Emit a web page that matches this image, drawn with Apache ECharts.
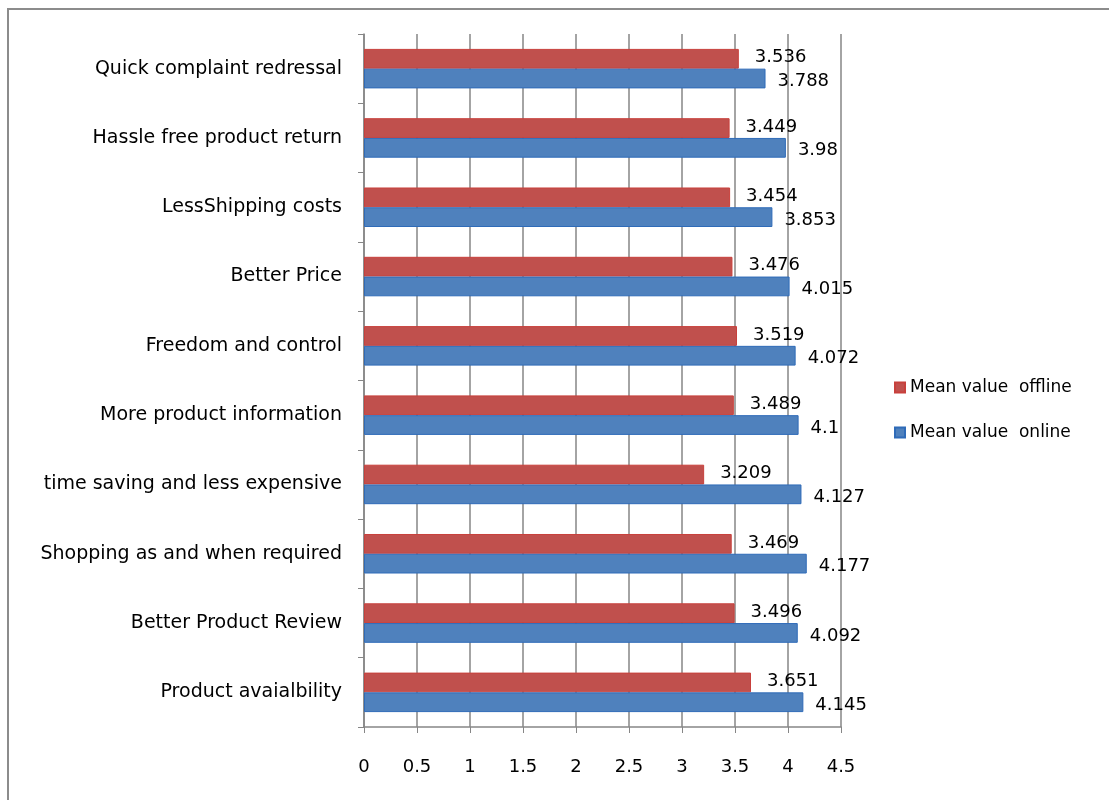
<!DOCTYPE html>
<html>
<head>
<meta charset="utf-8">
<script src="https://cdn.jsdelivr.net/npm/echarts@6/dist/echarts.min.js"></script>
<style>
html,body{margin:0;padding:0;background:#fff;}
#chart{width:1109px;height:800px;}
</style>
</head>
<body>
<div id="chart"></div>
<script>
const categories = [
  'Product avaialbility',
  'Better Product Review',
  'Shopping as and when required',
  'time saving and less expensive',
  'More product information',
  'Freedom and control',
  'Better Price',
  'LessShipping costs',
  'Hassle free product return',
  'Quick complaint redressal'
];
const offlineValues = [3.651, 3.496, 3.469, 3.209, 3.489, 3.519, 3.476, 3.454, 3.449, 3.536];
const onlineValues  = [4.145, 4.092, 4.177, 4.127, 4.1, 4.072, 4.015, 3.853, 3.98, 3.788];
const seriesNames = ['Mean value  offline', 'Mean value  online'];
const xTicks = [0, 0.5, 1, 1.5, 2, 2.5, 3, 3.5, 4, 4.5];

const chart = echarts.init(document.getElementById('chart'));
const FONT = 'DejaVu Sans';
chart.setOption({
  animation: false,
  backgroundColor: '#fff',
  textStyle: { fontFamily: FONT },
  graphic: [{
    type: 'rect',
    shape: { x: 8, y: 9, width: 1200, height: 900 },
    style: { fill: 'none', stroke: '#8c8c8c', lineWidth: 2 },
    silent: true
  }],
  grid: { left: 364, right: 268, top: 34, bottom: 73, containLabel: false },
  legend: {
    orient: 'vertical',
    left: 889,
    top: 374,
    itemWidth: 10,
    itemHeight: 10,
    itemGap: 28,
    icon: 'rect',
    data: [seriesNames[0], seriesNames[1]],
    textStyle: { fontFamily: FONT, fontSize: 17, color: '#000' }
  },
  xAxis: {
    type: 'value',
    min: xTicks[0],
    max: xTicks[xTicks.length - 1],
    interval: 0.5,
    axisLine: { show: true, lineStyle: { color: '#868686', width: 1.5 } },
    axisTick: { show: true, length: 6, lineStyle: { color: '#868686' } },
    splitLine: { show: true, lineStyle: { color: '#868686', width: 1.5 } },
    axisLabel: { fontFamily: FONT, fontSize: 18, color: '#000', margin: 31 }
  },
  yAxis: {
    type: 'category',
    data: categories,
    axisLine: { show: true, lineStyle: { color: '#868686', width: 1.5 } },
    axisTick: { show: true, length: 6, lineStyle: { color: '#868686' } },
    axisLabel: { fontFamily: FONT, fontSize: 19, color: '#000', margin: 22 }
  },
  series: [
    {
      name: seriesNames[0],
      type: 'bar',
      data: offlineValues,
      barGap: '0%',
      barCategoryGap: '43%',
      itemStyle: { color: '#C0504D', borderColor: '#c8403c', borderWidth: 1 },
      label: { show: true, position: 'right', distance: 16, offset: [0, -1], fontFamily: FONT, fontSize: 18, color: '#000' },
      z: 2
    },
    {
      name: seriesNames[1],
      type: 'bar',
      data: onlineValues,
      barGap: '0%',
      barCategoryGap: '43%',
      itemStyle: { color: '#4F81BD', borderColor: '#2f6bb8', borderWidth: 1 },
      label: { show: true, position: 'right', distance: 12, offset: [0, 3], fontFamily: FONT, fontSize: 18, color: '#000' },
      z: 2
    }
  ]
});
</script>
</body>
</html>
